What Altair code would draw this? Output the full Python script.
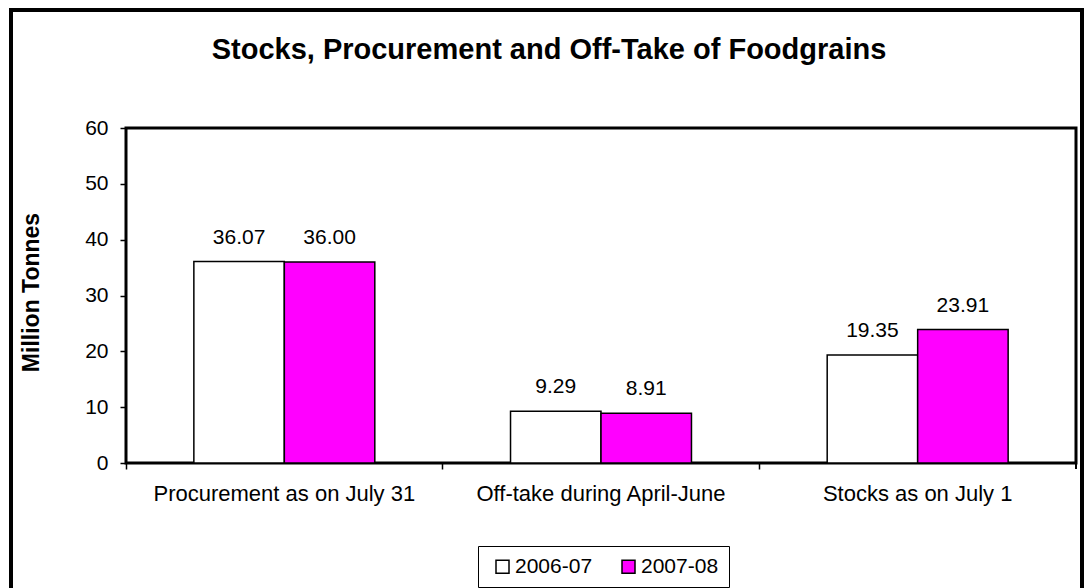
import altair as alt
import pandas as pd

categories = ["Procurement as on July 31", "Off-take during April-June", "Stocks as on July 1"]
years = ["2006-07", "2007-08"]
values_2006 = [36.07, 9.29, 19.35]
values_2007 = [36.00, 8.91, 23.91]
title_text = "Stocks, Procurement and Off-Take of Foodgrains"

rows = []
for c, v1, v2 in zip(categories, values_2006, values_2007):
    rows.append({"cat": c, "year": years[0], "val": v1, "label": f"{v1:.2f}"})
    rows.append({"cat": c, "year": years[1], "val": v2, "label": f"{v2:.2f}"})
df = pd.DataFrame(rows)

FONT = "Liberation Sans"

x = alt.X("cat:N", sort=categories, title=None,
          scale=alt.Scale(paddingInner=0, paddingOuter=0),
          axis=alt.Axis(labelAngle=0, labelFontSize=22, labelColor="black", labelFont=FONT,
                        labelLimit=0, bandPosition=0, tickColor="black", tickSize=6,
                        tickWidth=1.5, domain=False, labelPadding=14, grid=False))
xo = alt.XOffset("year:N", sort=years, scale=alt.Scale(paddingInner=0, paddingOuter=0.75))

bars = alt.Chart(df).mark_bar(stroke="black", strokeWidth=1.5).encode(
    x=x, xOffset=xo,
    y=alt.Y("val:Q", scale=alt.Scale(domain=[0, 60]), title="Million Tonnes",
            axis=alt.Axis(values=[0, 10, 20, 30, 40, 50, 60], labelFontSize=21, labelColor="black",
                          labelFont=FONT, tickColor="black", tickSize=6, tickWidth=1.5,
                          domain=False, grid=False, labelPadding=12,
                          titleFontSize=23, titleFont=FONT, titleFontWeight="bold",
                          titleColor="black", titleX=-95, titleY=164,
                          titleAlign="center", titleBaseline="middle")),
    fill=alt.Fill("year:N", sort=years,
                  scale=alt.Scale(domain=years, range=["#FFFFFF", "#FF00FF"]),
                  legend=alt.Legend(title=None, orient="none", legendX=352, legendY=418,
                                    direction="horizontal", strokeColor="black",
                                    padding=10, symbolOffset=4, symbolType="square",
                                    symbolSize=169, symbolStrokeColor="black",
                                    symbolStrokeWidth=1.5, labelFontSize=21, labelFont=FONT,
                                    labelColor="black", columnPadding=21, labelOffset=2)),
)

labels = alt.Chart(df).mark_text(dy=-24, fontSize=21, font=FONT, color="black").encode(
    x=alt.X("cat:N", sort=categories), xOffset=xo,
    y=alt.Y("val:Q"), text="label:N",
)

border = alt.Chart(df).mark_rect(fill=None, stroke="black", strokeWidth=3.5).encode(
    x=alt.value(-115), x2=alt.value(956), y=alt.value(-118), y2=alt.value(480),
)

end_tick = alt.Chart(df).mark_rule(color="black", strokeWidth=1.5).encode(
    x=alt.value(950), y=alt.value(335), y2=alt.value(341),
)

title_mark = alt.Chart(pd.DataFrame({"t": [title_text]})).mark_text(
    fontSize=29, font=FONT, fontWeight="bold", color="black", align="center",
    baseline="alphabetic",
).encode(x=alt.value(423), y=alt.value(-69), text="t:N")

chart = alt.layer(border, bars, labels, end_tick, title_mark).properties(
    width=950, height=335,
    autosize=alt.AutoSizeParams(type="none"),
    padding={"left": 126, "top": 128, "right": 12, "bottom": 125},
    background="white",
).configure_view(stroke="black", strokeWidth=3)

chart.save("out.html", embed_options={"renderer": "svg", "actions": False})
